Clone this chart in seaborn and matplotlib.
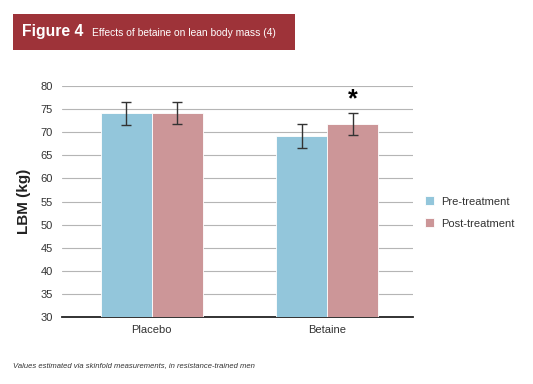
import pandas as pd
import seaborn as sns
import matplotlib.pyplot as plt
from matplotlib.patches import Rectangle

# values
groups = ["Placebo", "Betaine"]
phases = ["Pre-treatment", "Post-treatment"]
pre_mean = [74.1, 69.2]
post_mean = [74.2, 71.8]
pre_err = [2.5, 2.6]
post_err = [2.4, 2.3]

df = pd.DataFrame({
    "group": groups * 2,
    "phase": [phases[0]] * 2 + [phases[1]] * 2,
    "lbm": pre_mean + post_mean,
    "err": pre_err + post_err,
})

sns.set_style("white")
plt.rcParams["font.family"] = ["Liberation Sans", "DejaVu Sans"]

fig = plt.figure(figsize=(5.33, 3.84), dpi=100)
ax = fig.add_axes([0.116, 0.1745, 0.659, 0.6015])

palette = {"Pre-treatment": "#93c6db", "Post-treatment": "#cc9698"}
sns.barplot(data=df, x="group", y="lbm", hue="phase", order=groups,
            hue_order=phases, palette=palette, width=0.58, errorbar=None,
            saturation=1, edgecolor="white", linewidth=0.6, ax=ax, zorder=3)

# error bars at the bar centres seaborn placed
for patch, (_, row) in zip(ax.patches, df.iterrows()):
    cx = patch.get_x() + patch.get_width() / 2
    ax.errorbar(cx, row["lbm"], yerr=row["err"], color="#333333",
                capsize=3.5, elinewidth=1, capthick=1, zorder=4)

# significance marker over betaine post
bet_post = ax.patches[3]
ax.text(bet_post.get_x() + bet_post.get_width() / 2, 77.1, "*",
        ha="center", va="center", fontsize=18, fontweight="bold", color="black")

ax.set_ylim(30, 80)
ax.set_xlim(-0.512, 1.488)
ax.set_yticks(range(30, 81, 5))
ax.yaxis.grid(True, color="#b5b5b5", linewidth=0.8, zorder=0)
ax.set_axisbelow(True)
for s in ["left", "right", "top"]:
    ax.spines[s].set_visible(False)
ax.spines["bottom"].set_color("#222222")
ax.spines["bottom"].set_linewidth(1.3)
ax.tick_params(axis="both", length=0, labelsize=8, colors="#333333")
ax.tick_params(axis="x", pad=6)
ax.tick_params(axis="y", pad=6.5)
ax.set_xlabel("")
ax.set_ylabel("LBM (kg)", fontsize=11, fontweight="bold", color="#222222", labelpad=7)

leg = ax.legend(loc="center left", bbox_to_anchor=(1.005, 0.452), frameon=False,
                fontsize=8, handlelength=0.85, handleheight=0.85,
                handletextpad=0.65, labelspacing=1.05)
for t in leg.get_texts():
    t.set_color("#333333")

# title banner
fig.patches.append(Rectangle((0.024, 0.870), 0.529, 0.094, transform=fig.transFigure,
                             facecolor="#9e3339", edgecolor="none"))
fig.text(0.041, 0.917, "Figure 4", color="white", fontsize=11.3, fontweight="bold",
         va="center", ha="left")
fig.text(0.173, 0.915, "Effects of betaine on lean body mass (4)", color="white",
         fontsize=7.4, va="center", ha="left")

fig.text(0.024, 0.049, "Values estimated via skinfold measurements, in resistance-trained men",
         fontsize=5.5, style="italic", color="#333333", va="center", ha="left")

fig.savefig("out.png", dpi=100)
